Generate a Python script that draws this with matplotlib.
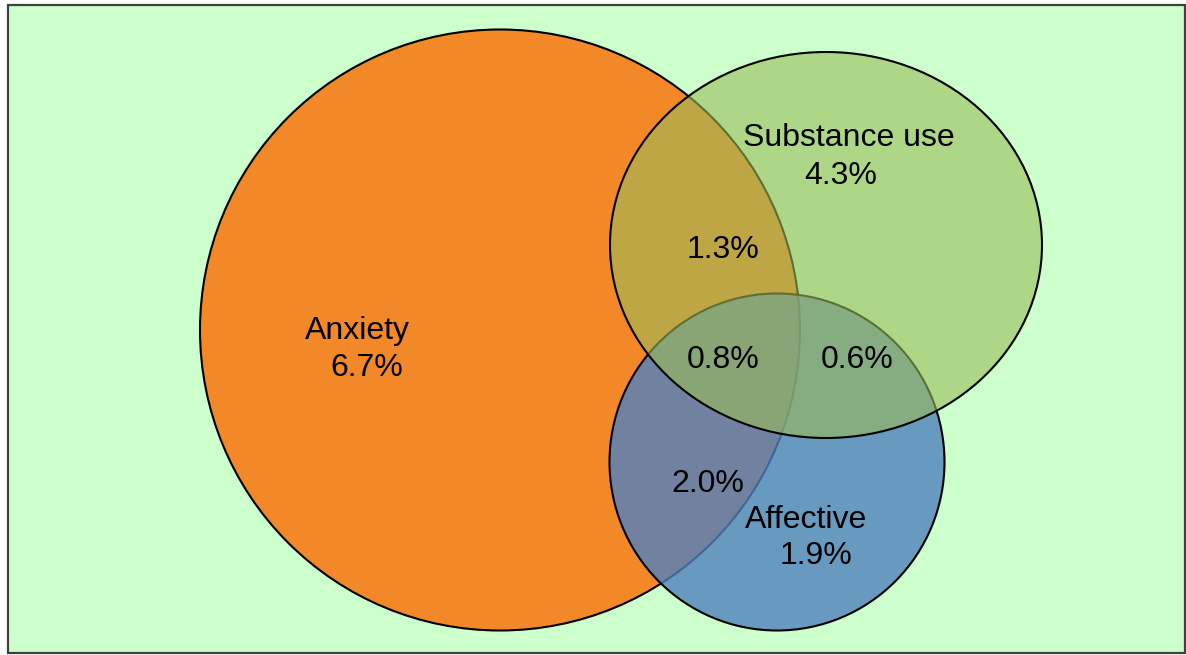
import matplotlib.pyplot as plt
from matplotlib.patches import Ellipse, Rectangle

# data
sets = ["Anxiety", "Substance use", "Affective"]
only_pct = [6.7, 4.3, 1.9]
pair_labels = ["Anxiety & Substance use", "Anxiety & Affective", "Substance use & Affective"]
pair_pct = [1.3, 2.0, 0.6]
all_three_pct = 0.8

# layout (pixels, y down)
W, H = 1186, 655
shapes = {
    "Anxiety": dict(xy=(500, 330), w=600, h=601, fc=(0.953, 0.533, 0.161, 1.0), z=1),
    "Affective": dict(xy=(777, 462), w=335, h=337, fc=(0.310, 0.506, 0.741, 0.8), z=2),
    "Substance use": dict(xy=(826, 245), w=432, h=386, fc=(0.608, 0.733, 0.349, 0.6), z=3),
}
dy = 2.5
name_pos = {"Anxiety": (357, 328 + dy), "Substance use": (849, 136 + dy), "Affective": (806, 517 + dy)}
pct_pos = {"Anxiety": (367, 366 + dy), "Substance use": (841, 173 + dy), "Affective": (816, 553 + dy)}
pair_pos = [(723, 247 + dy), (708, 482 + dy), (857, 357 + dy)]
center_pos = (723, 357 + dy)

fig = plt.figure(figsize=(W / 100, H / 100), dpi=100)
ax = fig.add_axes([0, 0, 1, 1])
ax.set_xlim(0, W)
ax.set_ylim(H, 0)
ax.axis("off")

ax.add_patch(Rectangle((8, 4.5), 1177, 648, facecolor="#CCFFCC", edgecolor="#404040", lw=1.6, zorder=0))

for name in sets:
    s = shapes[name]
    ax.add_patch(Ellipse(s["xy"], s["w"], s["h"], facecolor=s["fc"], edgecolor="black", lw=1.5, zorder=s["z"]))

font = dict(family=["Liberation Sans", "DejaVu Sans"], fontsize=23, ha="center", va="center", zorder=10)
for name, v in zip(sets, only_pct):
    ax.text(*name_pos[name], name, **font)
    ax.text(*pct_pos[name], f"{v:.1f}%", **font)
for p, v in zip(pair_pos, pair_pct):
    ax.text(*p, f"{v:.1f}%", **font)
ax.text(*center_pos, f"{all_three_pct:.1f}%", **font)

fig.savefig("out.png", dpi=100)
